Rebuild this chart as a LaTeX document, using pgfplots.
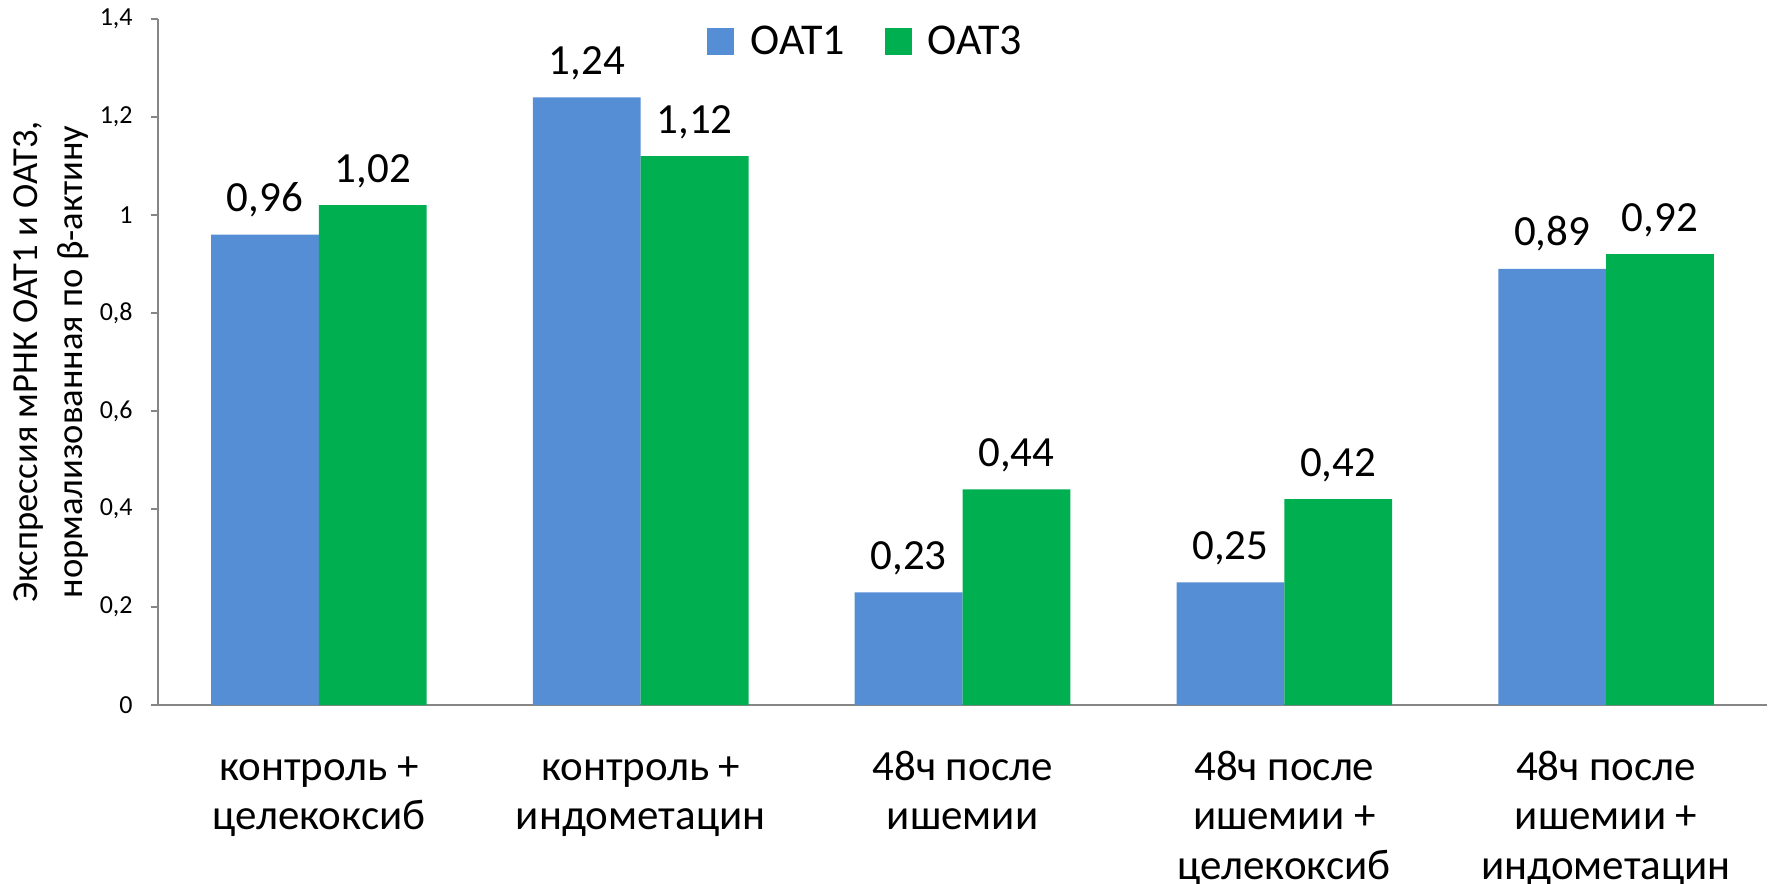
\documentclass[border=0pt]{standalone}
\usepackage{pgfplots}
\usepackage{pgfplotstable}
\pgfplotsset{compat=1.18}
\usepackage{fontspec}
\setmainfont{Carlito}

\definecolor{oatblue}{HTML}{558ED5}
\definecolor{oatgreen}{HTML}{00B050}
\definecolor{axisgray}{HTML}{868686}

% expression of OAT1 / OAT3 per group
\pgfplotstableread{
x  oat1  oat3
0  0.96  1.02
1  1.24  1.12
2  0.23  0.44
3  0.25  0.42
4  0.89  0.92
}\datatable

\begin{document}
\begin{tikzpicture}
\begin{axis}[
  at={(79pt,89pt)}, anchor=south west,
  scale only axis, width=804.5pt, height=343pt,
  ybar, bar width=0.335,
  clip=false,
  xmin=-0.5, xmax=4.5, ymin=0, ymax=1.4,
  xtick={0,1,2,3,4},
  % every label has three rows so that the last baseline sits at the same depth
  xticklabels={{контроль +\\целекоксиб\\\mbox{}},{контроль +\\индометацин\\\mbox{}},{48ч после\\ишемии\\\mbox{}},{48ч после\\ишемии +\\целекоксиб},{48ч после\\ишемии +\\индометацин}},
  ytick={0,0.2,0.4,0.6,0.8,1,1.2,1.4},
  yticklabel={\pgfmathprintnumber{\tick}},
  axis x line*=bottom, axis y line*=left,
  axis line style={axisgray, line width=1pt},
  tick align=outside,
  major tick length=3.5pt,
  ytick style={axisgray, line width=1pt},
  xtick style={draw=none},
  /pgf/number format/.cd, use comma, assume math mode=true,
  /pgfplots/.cd,
  yticklabel style={font=\fontsize{13}{15}\selectfont, inner sep=0pt, anchor=east, xshift=-9pt},
  xticklabel style={font=\fontsize{21.5}{24.75}\selectfont, align=center, anchor=base, yshift=-83.5pt},
  ylabel={Экспрессия мРНК OAT1 и OAT3,\\нормализованная по β-актину},
  every axis y label/.style={at={(axis description cs:-0.0472,0.5)}, rotate=90, anchor=base, align=center, font=\fontsize{18.3}{22.5}\selectfont},
  nodes near coords={\pgfmathprintnumber[use comma,fixed,fixed zerofill,precision=2]{\pgfplotspointmeta}},
  every node near coord/.append style={font=\fontsize{21.5}{26}\selectfont, anchor=base, yshift=11.5pt, inner sep=0pt, text=black},
  legend columns=2,
  legend style={at={(axis description cs:0.3412,1)}, anchor=west, yshift=-11.25pt, draw=none, fill=none, inner sep=0pt,
    font=\fontsize{22}{26}\selectfont,
    /tikz/every even column/.append style={column sep=18pt},
    /tikz/every odd column/.append style={column sep=6pt}},
  legend image code/.code={\fill[#1] (0pt,-6.75pt) rectangle (13.5pt,6.75pt);},
]
\addplot[fill=oatblue, draw=none, bar shift=-0.1675] table[x=x, y=oat1]{\datatable};
\addplot[fill=oatgreen, draw=none, bar shift=0.1675] table[x=x, y=oat3]{\datatable};
\legend{OAT1, OAT3}
\end{axis}
\pgfresetboundingbox
\path[use as bounding box] (0,0) rectangle (885pt,441.5pt);
\end{tikzpicture}
\end{document}
